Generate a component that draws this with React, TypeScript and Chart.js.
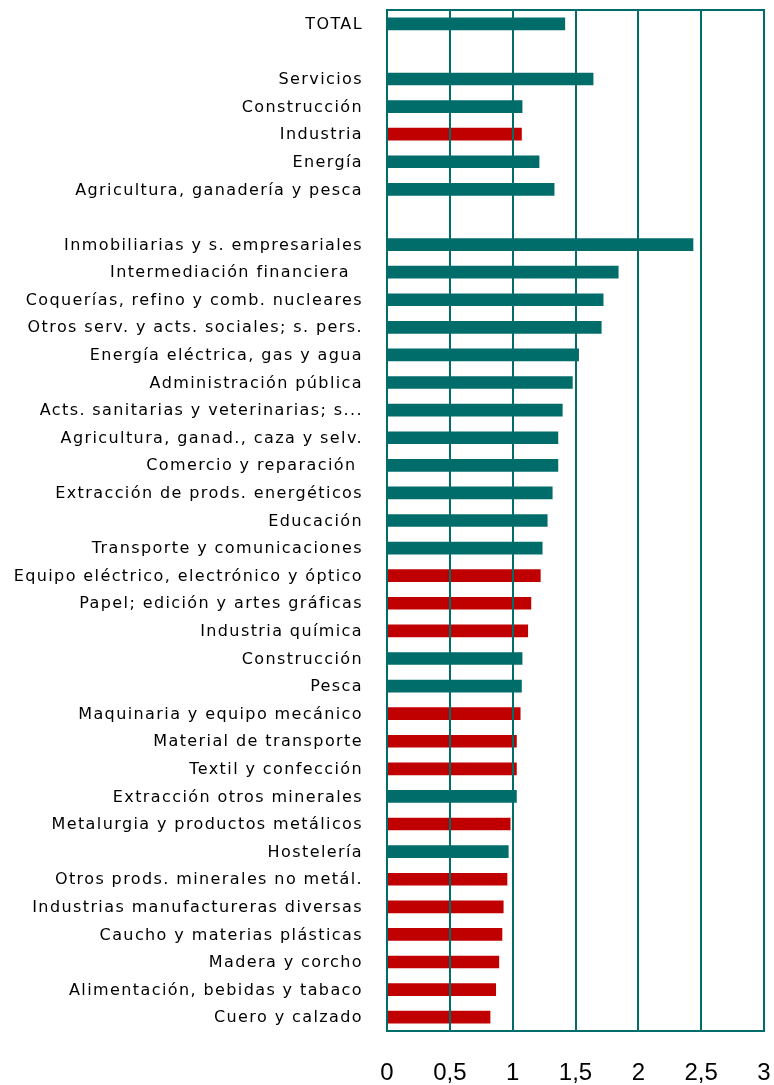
import React, { useEffect, useRef } from 'react';
import { Chart, registerables } from 'chart.js';

Chart.register(...registerables);

const categories = [
  'TOTAL',
  '',
  'Servicios',
  'Construcción',
  'Industria',
  'Energía',
  'Agricultura, ganadería y pesca',
  '',
  'Inmobiliarias y s. empresariales',
  'Intermediación financiera  ',
  'Coquerías, refino y comb. nucleares',
  'Otros serv. y acts. sociales; s. pers.',
  'Energía eléctrica, gas y agua',
  'Administración pública',
  'Acts. sanitarias y veterinarias; s...',
  'Agricultura, ganad., caza y selv.',
  'Comercio y reparación ',
  'Extracción de prods. energéticos',
  'Educación',
  'Transporte y comunicaciones',
  'Equipo eléctrico, electrónico y óptico',
  'Papel; edición y artes gráficas',
  'Industria química',
  'Construcción',
  'Pesca',
  'Maquinaria y equipo mecánico',
  'Material de transporte',
  'Textil y confección',
  'Extracción otros minerales',
  'Metalurgia y productos metálicos',
  'Hostelería',
  'Otros prods. minerales no metál.',
  'Industrias manufactureras diversas',
  'Caucho y materias plásticas',
  'Madera y corcho',
  'Alimentación, bebidas y tabaco',
  'Cuero y calzado',
];

const values = [
  1.415, null, 1.64, 1.075, 1.07, 1.21, 1.33, null,
  2.435, 1.84, 1.72, 1.705, 1.525, 1.475, 1.395, 1.36, 1.36, 1.315, 1.275, 1.235,
  1.22, 1.145, 1.12, 1.075, 1.07, 1.06, 1.03, 1.03, 1.03, 0.98, 0.965, 0.955,
  0.925, 0.915, 0.89, 0.865, 0.82,
];

// 1 = industrial branch (red), 0 = other (teal)
const industryFlags = [
  0, 0, 0, 0, 1, 0, 0, 0,
  0, 0, 0, 0, 0, 0, 0, 0, 0, 0, 0, 0,
  1, 1, 1, 0, 0, 1, 1, 1, 0, 1, 0, 1,
  1, 1, 1, 1, 1,
];

const xTickLabels = ['0', '0,5', '1', '1,5', '2', '2,5', '3'];

const TEAL = '#006D6A';
const RED = '#C00000';

const framePlugin = {
  id: 'frame',
  afterDatasetsDraw(chart: any) {
    try { chart.ctx.letterSpacing = '1.4px'; } catch (e) {}
  },
  afterDraw(chart: any) {
    const { ctx, chartArea } = chart;
    try { ctx.letterSpacing = '0px'; } catch (e) {}
    ctx.save();
    ctx.strokeStyle = TEAL;
    ctx.lineWidth = 2;
    ctx.beginPath();
    const y = Math.round(chartArea.top - 1) + 1;
    ctx.moveTo(chartArea.left - 1, y);
    ctx.lineTo(chartArea.right + 1, y);
    ctx.stroke();
    ctx.restore();
  },
};

const zeroPadding = (s: any) => {
  s.paddingTop = 0;
  s.paddingBottom = 0;
  s.paddingLeft = 0;
  s.paddingRight = 0;
};

export default function App() {
  const canvasRef = useRef<HTMLCanvasElement | null>(null);

  useEffect(() => {
    if (!canvasRef.current) return;
    Chart.defaults.font.family = "'Liberation Sans', Arial, sans-serif";
    const chart = new Chart(canvasRef.current, {
      type: 'bar',
      data: {
        labels: categories,
        datasets: [
          {
            data: values as any,
            backgroundColor: industryFlags.map((f) => (f ? RED : TEAL)),
            borderWidth: 0,
            barThickness: 12,
            categoryPercentage: 1,
          },
        ],
      },
      options: {
        indexAxis: 'y',
        responsive: false,
        animation: false,
        devicePixelRatio: 1,
        layout: { padding: { top: 10, right: 10, left: 0, bottom: 0 } },
        plugins: {
          legend: { display: false },
          tooltip: { enabled: false },
        },
        scales: {
          x: {
            type: 'linear',
            position: 'bottom',
            min: 0,
            max: 3,
            ticks: {
              stepSize: 0.5,
              autoSkip: false,
              maxRotation: 0,
              color: '#000',
              font: { size: 24 },
              padding: 28,
              callback: (_v: any, i: number) => xTickLabels[i],
              z: 0,
            },
            grid: { color: TEAL, lineWidth: 2, drawTicks: false, z: 1 },
            border: { color: TEAL, width: 2, z: 1 },
            afterFit: (s: any) => {
              s.height = 54;
              zeroPadding(s);
            },
          },
          y: {
            type: 'category',
            grid: { display: false, drawTicks: false },
            border: { display: true, color: TEAL, width: 2, z: 1 },
            ticks: {
              autoSkip: false,
              color: '#000',
              font: { size: 16, family: "'DejaVu Sans', sans-serif" },
              padding: 24,
              labelOffset: 1,
              z: 1,
            },
            afterFit: (s: any) => {
              s.width = 387;
              zeroPadding(s);
            },
          },
        },
      },
      plugins: [framePlugin],
    });
    return () => chart.destroy();
  }, []);

  return (
    <div style={{ position: 'fixed', left: 0, top: 0, width: 774, height: 1085, background: '#fff' }}>
      <canvas ref={canvasRef} width={774} height={1085} style={{ display: 'block' }} />
    </div>
  );
}
